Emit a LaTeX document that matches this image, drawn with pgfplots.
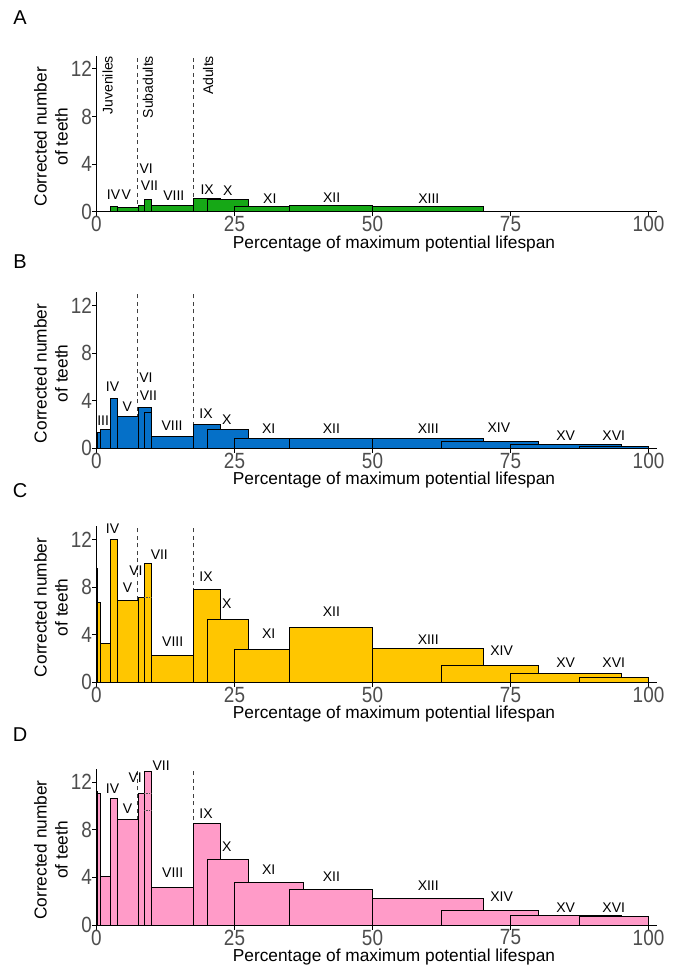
\documentclass[border=0pt]{standalone}
\usepackage{fontspec}
\setmainfont{Liberation Sans}
\newfontfamily\tickfont[FakeStretch=0.86]{Liberation Sans}
\usepackage{pgfplots}
\pgfplotsset{compat=1.18}
\definecolor{cA}{RGB}{22,168,22}
\definecolor{cB}{RGB}{5,112,200}
\definecolor{cC}{RGB}{255,198,0}
\definecolor{cD}{RGB}{255,155,200}
\definecolor{tickgrey}{RGB}{77,77,77}
\newcommand{\bx}[3]{\addplot[draw=black, line width=0.8pt, fill=\barcol] coordinates {(#1,0) (#1,#3) (#2,#3) (#2,0)} -- cycle;}
\newcommand{\lab}[3]{\node[font=\fontsize{14}{14}\selectfont, inner sep=0pt] at (axis cs:#1,#2) {#3};}
\newcommand{\dsh}[1]{\addplot[line width=0.9pt, draw=black!75, dash pattern=on 4pt off 3.5pt] coordinates {(#1,0) (#1,13.1)};}
\newcommand{\dotl}[3]{\addplot[line width=0.7pt, draw=black!70, densely dotted] coordinates {(#1,#3) (#2,#3)};}
\pgfplotsset{panel/.style={
  scale only axis, width=560.3pt, height=155.9pt,
  xmin=0, xmax=101.5, ymin=0, ymax=13.1,
  axis lines*=left, axis line style={line width=1pt},
  xtick={0,25,50,75,100}, ytick={0,4,8,12},
  tick align=outside, major tick length=4.5pt,
  tick style={line width=1pt, black},
  ticklabel style={font={\tickfont\fontsize{22}{22}\selectfont}, text=tickgrey, inner sep=0pt},
  /pgf/number format/assume math mode=true,
  xticklabel style={anchor=north},
  yticklabel style={anchor=east},
  clip=false, anchor=south west}}
\newcommand{\xtitle}[1]{\node[font=\fontsize{17.3}{20}\selectfont] at (394pt,#1) {Percentage of maximum potential lifespan};}
\newcommand{\ytitle}[1]{\node[rotate=90, align=center, font=\fontsize{17.3}{21}\selectfont] at (51pt,#1) {Corrected number\\of teeth};}
\newcommand{\plab}[2]{\node[font=\fontsize{20}{20}\selectfont] at (20pt,#1) {#2};}
\begin{document}
\begin{tikzpicture}
\useasboundingbox (0,0) rectangle (681pt,-975pt);
% ---------------- A
\def\barcol{cA}
\begin{axis}[panel, at={(96.5pt,-211.7pt)}]
\dsh{7.5}\dsh{17.5}
\bx{2.5}{3.75}{0.42}
\bx{3.75}{7.5}{0.34}
\bx{7.5}{10}{0.5}
\bx{8.6}{10}{1.05}
\bx{10}{17.5}{0.55}
\bx{17.5}{22.5}{1.12}
\bx{20}{27.5}{1.0}
\bx{25}{37.5}{0.48}
\bx{35}{50}{0.55}
\bx{50}{70}{0.45}
\lab{3.1}{1.4}{IV}\lab{5.4}{1.4}{V}\lab{9.0}{3.65}{VI}\lab{9.6}{2.2}{VII}
\lab{14.0}{1.32}{VIII}\lab{20.05}{1.87}{IX}\lab{23.8}{1.75}{X}\lab{31.4}{1.12}{XI}
\lab{42.6}{1.2}{XII}\lab{60.2}{1.1}{XIII}
\node[rotate=90, anchor=east, inner sep=0pt, font=\fontsize{14}{14}\selectfont] at (axis cs:2.0,13.1) {Juveniles};
\node[rotate=90, anchor=east, inner sep=0pt, font=\fontsize{14}{14}\selectfont] at (axis cs:9.3,13.1) {Subadults};
\node[rotate=90, anchor=east, inner sep=0pt, font=\fontsize{14}{14}\selectfont] at (axis cs:20.2,13.1) {Adults};
\end{axis}
\plab{-18pt}{A}\xtitle{-243.7pt}\ytitle{-136.7pt}
% ---------------- B
\def\barcol{cB}
\begin{axis}[panel, at={(96.5pt,-448.3pt)}]
\dsh{7.5}\dsh{17.5}
\bx{0.25}{0.75}{1.35}
\bx{0.75}{2.5}{1.55}
\bx{2.5}{3.75}{4.2}
\bx{3.75}{7.5}{2.65}
\bx{7.5}{10}{3.45}
\bx{8.6}{10}{3.0}
\bx{10}{17.5}{1.0}
\bx{17.5}{22.5}{2.05}
\bx{20}{27.5}{1.6}
\bx{25}{37.5}{0.85}
\bx{35}{50}{0.85}
\bx{50}{70}{0.85}
\bx{62.5}{80}{0.62}
\bx{75}{95}{0.34}
\bx{87.5}{100}{0.2}
\lab{1.2}{2.36}{III}\lab{2.9}{5.14}{IV}\lab{5.6}{3.53}{V}\lab{8.96}{5.94}{VI}\lab{9.4}{4.44}{VII}
\lab{13.7}{1.92}{VIII}\lab{19.85}{2.89}{IX}\lab{23.6}{2.42}{X}\lab{31.2}{1.67}{XI}
\lab{42.55}{1.67}{XII}\lab{60.1}{1.67}{XIII}\lab{72.9}{1.72}{XIV}\lab{85}{1.03}{XV}\lab{93.7}{1.03}{XVI}
\end{axis}
\plab{-262pt}{B}\xtitle{-480.3pt}\ytitle{-373.3pt}
% ---------------- C
\def\barcol{cC}
\begin{axis}[panel, at={(96.5pt,-682.3pt)}]
\dsh{7.5}\dsh{17.5}
\bx{0}{0.25}{9.6}
\bx{0.25}{0.75}{6.7}
\bx{0.75}{2.5}{3.3}
\bx{2.5}{3.75}{12.0}
\bx{3.75}{7.5}{6.9}
\bx{7.5}{10}{7.1}
\bx{8.6}{10}{10.0}
\dotl{8.6}{10}{7.1}
\bx{10}{17.5}{2.3}
\bx{17.5}{22.5}{7.8}
\bx{20}{27.5}{5.3}
\bx{25}{37.5}{2.75}
\bx{35}{50}{4.6}
\bx{50}{70}{2.85}
\bx{62.5}{80}{1.45}
\bx{75}{95}{0.73}
\bx{87.5}{100}{0.45}
\lab{2.9}{12.87}{IV}\lab{5.63}{7.92}{V}\lab{7.14}{9.4}{VI}\lab{11.38}{10.7}{VII}
\lab{13.8}{3.44}{VIII}\lab{19.85}{8.84}{IX}\lab{23.6}{6.57}{X}\lab{31.2}{4.06}{XI}
\lab{42.55}{5.96}{XII}\lab{60.1}{3.6}{XIII}\lab{73.4}{2.69}{XIV}\lab{85}{1.62}{XV}\lab{93.7}{1.62}{XVI}
\end{axis}
\plab{-491pt}{C}\xtitle{-714.3pt}\ytitle{-607.3pt}
% ---------------- D
\def\barcol{cD}
\begin{axis}[panel, at={(96.5pt,-925pt)}]
\dsh{7.5}\dsh{17.5}
\bx{0}{0.25}{11.2}
\bx{0.25}{0.75}{11.1}
\bx{0.75}{2.5}{4.1}
\bx{2.5}{3.75}{10.65}
\bx{3.75}{7.5}{8.9}
\bx{7.5}{10}{11.05}
\bx{8.6}{10}{12.9}
\dotl{8.6}{10}{11.05}
\dotl{8.6}{10}{9.6}
\bx{10}{17.5}{3.2}
\bx{17.5}{22.5}{8.5}
\bx{20}{27.5}{5.5}
\bx{25}{37.5}{3.56}
\bx{35}{50}{3.0}
\bx{50}{70}{2.2}
\bx{62.5}{80}{1.24}
\bx{75}{95}{0.77}
\bx{87.5}{100}{0.69}
\lab{2.9}{11.48}{IV}\lab{5.63}{9.74}{V}\lab{7.0}{12.36}{VI}\lab{11.7}{13.38}{VII}
\lab{13.8}{4.41}{VIII}\lab{19.85}{9.38}{IX}\lab{23.6}{6.57}{X}\lab{31.2}{4.63}{XI}
\lab{42.55}{4.08}{XII}\lab{60.1}{3.31}{XIII}\lab{73.4}{2.4}{XIV}\lab{85}{1.46}{XV}\lab{93.7}{1.46}{XVI}
\end{axis}
\plab{-735pt}{D}\xtitle{-957pt}\ytitle{-850pt}
\end{tikzpicture}
\end{document}
